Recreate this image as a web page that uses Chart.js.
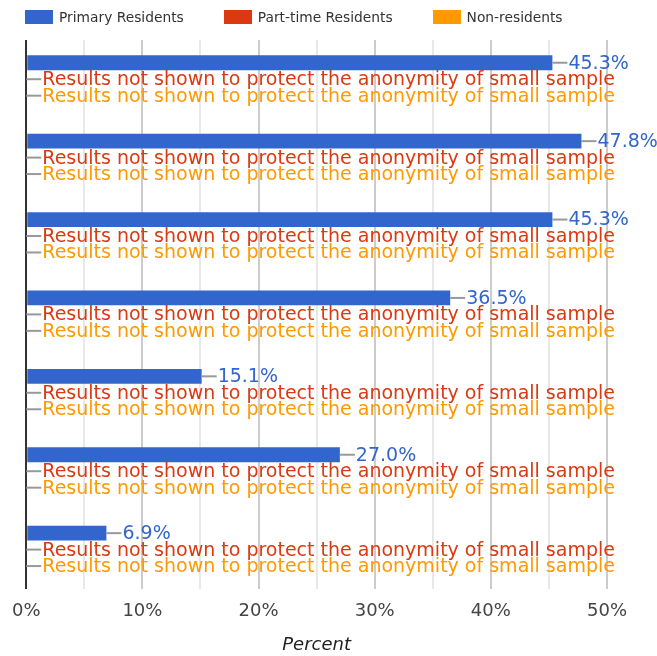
<!DOCTYPE html>
<html>
<head>
<meta charset="utf-8">
<script src="https://cdn.jsdelivr.net/npm/chart.js@4"></script>
<style>
  body { margin: 0; background: #fff; font-family: "DejaVu Sans", sans-serif; }
  #wrap { position: relative; width: 657px; height: 656px; }
  #legend { position: absolute; left: 25px; top: 9px; display: flex; font-size: 13.8px; color: #333; }
  .item { display: flex; align-items: center; margin-right: 40px; }
  .box { width: 28px; height: 14px; margin-right: 6px; }
</style>
</head>
<body>
<div id="wrap">
  <div id="legend"></div>
  <canvas id="chart" width="657" height="656"></canvas>
</div>
<script>
const categories = ["1", "2", "3", "4", "5", "6", "7"];
const seriesNames = ["Primary Residents", "Part-time Residents", "Non-residents"];
const primary = [45.3, 47.8, 45.3, 36.5, 15.1, 27.0, 6.9];
const partTime = [null, null, null, null, null, null, null];
const nonResidents = [null, null, null, null, null, null, null];
const xTicks = [0, 10, 20, 30, 40, 50];
const hiddenNote = "Results not shown to protect the anonymity of small sample";
const colors = ["#3366cc", "#dc3912", "#ff9900"];

// legend as html so spacing can follow the reference
const legend = document.getElementById("legend");
seriesNames.forEach(function (name, i) {
  const item = document.createElement("div");
  item.className = "item";
  item.innerHTML = '<span class="box" style="background:' + colors[i] + '"></span><span>' + name + "</span>";
  legend.appendChild(item);
});

const barLabels = {
  id: "barLabels",
  afterDatasetsDraw(chart) {
    const ctx = chart.ctx;
    const x = chart.scales.x;
    ctx.save();
    ctx.font = "19px 'DejaVu Sans'";
    ctx.textBaseline = "middle";
    ctx.textAlign = "left";
    chart.data.datasets.forEach(function (ds, di) {
      chart.getDatasetMeta(di).data.forEach(function (bar, i) {
        const v = ds.data[i];
        const start = v == null ? x.getPixelForValue(0) : bar.x;
        ctx.strokeStyle = "#999";
        ctx.lineWidth = 2;
        ctx.beginPath();
        ctx.moveTo(start, bar.y);
        ctx.lineTo(start + 15, bar.y);
        ctx.stroke();
        ctx.fillStyle = colors[di];
        ctx.fillText(v == null ? hiddenNote : v.toFixed(1) + "%", start + 16, bar.y + 1);
      });
    });
    ctx.restore();
  },
};

new Chart(document.getElementById("chart"), {
  type: "bar",
  data: {
    labels: categories,
    datasets: [
      { label: seriesNames[0], data: primary, backgroundColor: colors[0] },
      { label: seriesNames[1], data: partTime, backgroundColor: colors[1] },
      { label: seriesNames[2], data: nonResidents, backgroundColor: colors[2] },
    ],
  },
  options: {
    indexAxis: "y",
    responsive: false,
    animation: false,
    datasets: { bar: { categoryPercentage: 0.63, barPercentage: 0.9 } },
    layout: { padding: { left: 25, right: 50, top: 40, bottom: 0 } },
    scales: {
      x: {
        min: 0,
        max: 50,
        border: { display: false },
        grid: {
          drawTicks: false,
          color: (c) => (c.tick.value === 0 ? "#333" : c.tick.value % 10 === 0 ? "#cccccc" : "#e8e8e8"),
          lineWidth: 2,
        },
        ticks: {
          stepSize: 5,
          autoSkip: false,
          maxRotation: 0,
          padding: 12,
          color: "#444",
          font: { family: "DejaVu Sans", size: 18 },
          callback: (v) => (xTicks.includes(v) ? v + "%" : ""),
        },
        title: {
          display: true,
          text: "Percent",
          color: "#222",
          padding: { top: 0, bottom: 0 },
          font: { family: "DejaVu Sans", size: 18, style: "italic" },
        },
      },
      y: { display: false },
    },
    plugins: {
      legend: { display: false },
      tooltip: { enabled: false },
    },
  },
  plugins: [barLabels],
});
</script>
</body>
</html>
